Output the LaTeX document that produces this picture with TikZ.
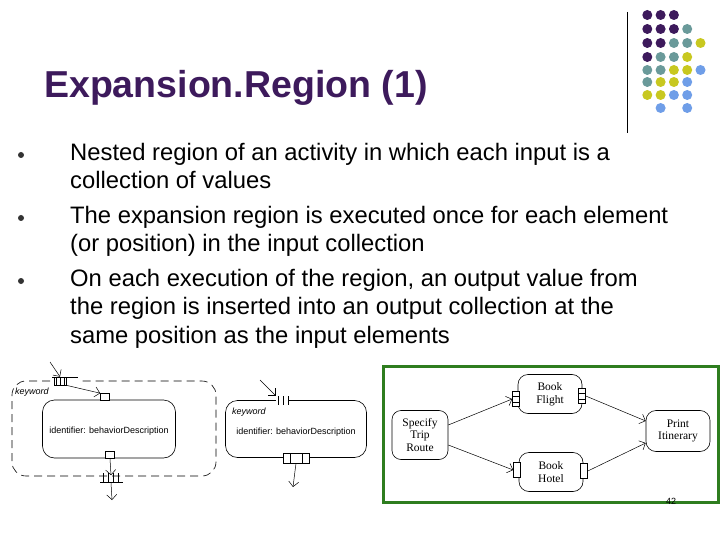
\documentclass[tikz,border=0pt]{standalone}
\usepackage{fontspec}
\setmainfont{Liberation Sans}
\newfontfamily\serifx{Liberation Serif}
\usetikzlibrary{arrows.meta}
\definecolor{cP}{HTML}{3D1A5C}
\definecolor{cT}{HTML}{6A9A9A}
\definecolor{cY}{HTML}{C8C820}
\definecolor{cB}{HTML}{6F9EE8}
\definecolor{grn}{HTML}{2E7D1F}
\begin{document}
\begin{tikzpicture}[x=1pt,y=-1pt,
  dot/.style={circle,inner sep=0pt,minimum size=10pt},
  bul/.style={circle,fill=black!80,inner sep=0pt,minimum size=6pt},
  btxt/.style={anchor=north west,font=\fontsize{23.8}{28.5}\selectfont,align=left,inner sep=0pt},
  act/.style={draw,rounded corners=12pt,line width=0.6pt},
  pin/.style={draw,fill=white,line width=0.6pt,inner sep=0pt},
  ar/.style={-{Straight Barb[length=5pt]},line width=0.5pt},
  lbl/.style={font=\fontsize{9}{10}\selectfont,inner sep=0pt},
  st/.style={font=\serifx\fontsize{11.5}{12.5}\selectfont,align=center,inner sep=0pt}]
\useasboundingbox (0,0) rectangle (720,540);
\fill[white] (0,0) rectangle (720,540);
% title
\node[anchor=west,inner sep=0pt,font=\bfseries\fontsize{37.5}{40}\selectfont,text=cP] (title) at (44,88) {Expansion.Region (1)};
\draw[line width=0.8pt] (627,12) -- (627,133);
% dots
\foreach \r/\cols in {15/{1/P,2/P,3/P},29/{1/P,2/P,3/P,4/T},43/{1/P,2/P,3/T,4/T,5/Y},57/{1/P,2/T,3/T,4/Y},70/{1/T,2/T,3/Y,4/Y,5/B},82/{1/T,2/Y,3/Y,4/B},95/{1/Y,2/Y,3/B,4/B},108/{2/B,4/B}}{
  \foreach \c/\k in \cols { \node[dot,fill=c\k] at ({634+13.3*\c},\r) {}; }}
% bullets
\node[bul] (b1) at (21,155) {};
\node[bul] (b2) at (21,218) {};
\node[bul] (b3) at (21,281) {};
\node[btxt] (t1) at (70,143) {Nested region of an activity in which each input is a\\collection of values};
\node[btxt] (t2) at (70,206) {The expansion region is executed once for each element\\(or position) in the input collection};
\node[btxt] (t3) at (70,269) {On each execution of the region, an output value from\\the region is inserted into an output collection at the\\same position as the input elements};
% left diagram
\draw[dash pattern=on 8pt off 5pt,rounded corners=14pt,line width=0.6pt] (50,381) -- (12,381) -- (12,476) -- (216,476) -- (216,381) -- (80,381);
\node[pin,minimum width=12pt,minimum height=8pt] (lin) at (60,381) {};
\draw[line width=0.6pt] (56,377)--(56,385) (60,377)--(60,385) (64,377)--(64,385) (52,377)--(78,377);
\coordinate (lsrc) at (50,362);
\draw[ar] (lsrc) -- (lin.north);
\node[lbl,anchor=west,font=\itshape\fontsize{9}{10}\selectfont] (lkw) at (15,392) {keyword};
\node[act,minimum width=133pt,minimum height=58pt] (la) at (109,429) {};
\node[font=\fontsize{9}{10}\selectfont] (lt) at (109,431) {identifier: behaviorDescription};
\node[pin,minimum width=9pt,minimum height=7pt] (lp1) at (105,397) {};
\draw[ar] (lin.south east) -- (lp1.north west);
\node[pin,minimum width=9pt,minimum height=7pt] (lp2) at (110,455) {};
\node[pin,minimum width=20pt,minimum height=7pt,draw=none,fill=none] (lout) at (111,479) {};
\draw[line width=0.6pt] (100,482)--(123,482) (103,473)--(103,482) (108,473)--(108,482) (113,473)--(113,482) (118,473)--(118,482);
\draw[ar] (lp2.south) -- (lout.north);
\coordinate (lend) at (112,500);
\draw[ar] (lout.south) -- (lend);
% right diagram
\node[act,minimum width=141pt,minimum height=57pt] (ra) at (296,429) {};
\node[font=\fontsize{9}{10}\selectfont] (rt) at (296,432) {identifier: behaviorDescription};
\node[lbl,anchor=west,font=\itshape\fontsize{9}{10}\selectfont] (rkw) at (232,412) {keyword};
\node[pin,minimum width=14pt,minimum height=8pt,draw=none] (rin) at (283,400) {};
\draw[line width=0.6pt] (278,396)--(278,405) (283,396)--(283,405) (288,396)--(288,405) (288,400)--(300,400);
\coordinate (rsrc) at (260,380);
\draw[ar] (rsrc) -- (rin.north west);
\node[pin,minimum width=26pt,minimum height=10pt] (rout) at (296,458) {};
\draw[line width=0.6pt] (290,453)--(290,463) (302,453)--(302,463) (283,453)--(310,453) (283,463)--(310,463);
\coordinate (rend) at (293,487);
\draw[ar] (rout.south) -- (rend);
% green box
\draw[grn,line width=3pt] (383,366) rectangle (718,502);
\node[act,minimum width=56pt,minimum height=49pt,rounded corners=9pt,st] (sp) at (420,435) {Specify\\Trip\\Route};
\node[act,minimum width=64pt,minimum height=39pt,rounded corners=10pt,st] (bf) at (550,394) {Book\\Flight};
\node[act,minimum width=64pt,minimum height=39pt,rounded corners=10pt,st] (bh) at (551,472) {Book\\Hotel};
\node[act,minimum width=64pt,minimum height=41pt,rounded corners=10pt,st] (pi) at (678,431) {Print\\Itinerary};
\node[pin,minimum width=7pt,minimum height=15pt] (bfi) at (516,399) {};
\draw (512.5,396)--(519.5,396) (512.5,402)--(519.5,402);
\node[pin,minimum width=7pt,minimum height=15pt] (bfo) at (582,396) {};
\draw (578.5,393)--(585.5,393) (578.5,399)--(585.5,399);
\node[pin,minimum width=7pt,minimum height=15pt] (bhi) at (517,470) {};
\node[pin,minimum width=7pt,minimum height=15pt] (bho) at (584,471) {};
\draw[ar] (sp.east |- 425,425) -- (bfi.west);
\draw[ar] (sp.east |- 445,445) -- (bhi.west);
\draw[ar] (bfo.east) -- (pi.west |- 420,421);
\draw[ar] (bho.east) -- (pi.west |- 443,443);
\node[font=\fontsize{9}{10}\selectfont] (pg) at (671,501) {42};
\end{tikzpicture}
\end{document}
